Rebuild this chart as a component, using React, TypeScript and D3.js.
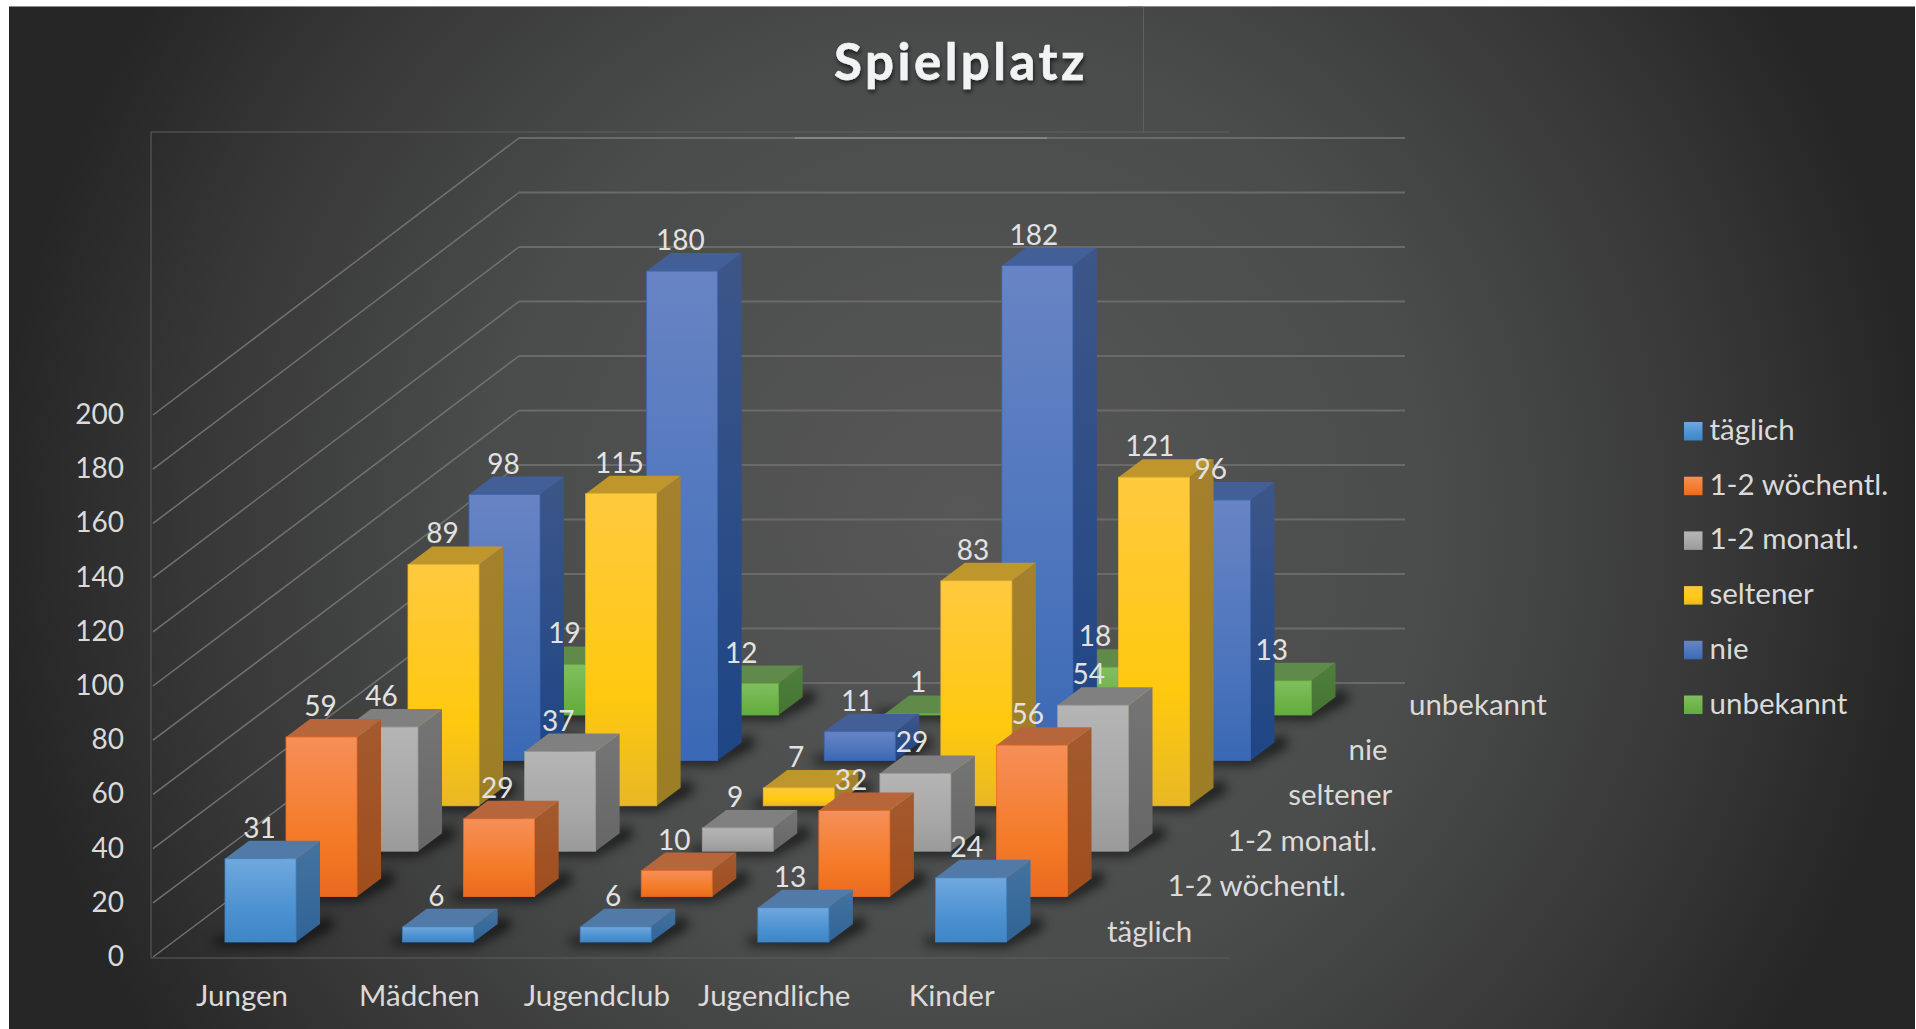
import React from "react";
import * as d3 from "d3";

const title = "Spielplatz";
const categories = ["Jungen", "Mädchen", "Jugendclub", "Jugendliche", "Kinder"];
const seriesNames = ["täglich", "1-2 wöchentl.", "1-2 monatl.", "seltener", "nie", "unbekannt"];
const taeglich = [31, 6, 6, 13, 24];
const woechentl = [59, 29, 10, 32, 56];
const monatl = [46, 37, 9, 29, 54];
const seltener = [89, 115, 7, 83, 121];
const nie = [98, 180, 11, 182, 96];
const unbekannt = [19, 12, 1, 18, 13];
const seriesValues = [taeglich, woechentl, monatl, seltener, nie, unbekannt];
const yTicks = [0, 20, 40, 60, 80, 100, 120, 140, 160, 180, 200];

const palette = [
  { front: ["#70a8de", "#4a90d0", "#3f86c6"], side: ["#44739f", "#2f6496"], top: "#527aa8" },
  { front: ["#f68f58", "#f47a26", "#ea6a20"], side: ["#a35a2e", "#a04d1d"], top: "#b7663c" },
  { front: ["#b5b5b5", "#a6a6a6", "#9a9a9a"], side: ["#757575", "#666666"], top: "#808080" },
  { front: ["#ffc93f", "#ffc90f", "#e8b825"], side: ["#a5802d", "#9c7e25"], top: "#bf962c" },
  { front: ["#6884c4", "#4b74bc", "#3a68b4"], side: ["#3d5689", "#1e4585"], top: "#435f98" },
  { front: ["#80bf5f", "#6db247", "#62ac3d"], side: ["#4f7f3c", "#467532"], top: "#5f8a4a" },
];

const W = 1916, H = 1029;
const barW = 71, depthX = 24, depthY = 18;
const backX = 519, frontX = 153, wallRight = 1405;

const xCat = d3.scalePoint<number>().domain(d3.range(5)).range([225, 935.5]);
const xRow = d3.scaleLinear().domain([0, 5]).range([0, 305]);
const yBase = d3.scaleLinear().domain([0, 5]).range([942, 715]);
const barH = d3.scaleLinear().domain([0, 200]).range([-1.2, 543.8]);
const yBack = d3.scaleLinear().domain([0, 200]).range([683, 138]);
const yFront = d3.scaleLinear().domain([0, 200]).range([957, 415]);

const pts = (p: number[][]) => p.map((q) => q.join(",")).join(" ");
const rowOrder = d3.range(5, -1, -1);
const font = "Lato, 'Open Sans', sans-serif";
const textFill = "#dadada";

export default function App() {
  return (
    <svg width={W} height={H} viewBox={`0 0 ${W} ${H}`} style={{ position: "fixed", left: 0, top: 0, display: "block" }} fontFamily={font}>
      <defs>
        <radialGradient id="bg" gradientUnits="userSpaceOnUse" cx={960} cy={520} r={960}>
          <stop offset="0" stopColor="#575757" />
          <stop offset="0.5" stopColor="#4a4b4b" />
          <stop offset="0.8" stopColor="#363736" />
          <stop offset="1" stopColor="#262626" />
        </radialGradient>
        <filter id="sh" x="-40%" y="-80%" width="180%" height="260%"><feGaussianBlur stdDeviation="6" /></filter>
        <filter id="ts" x="-10%" y="-30%" width="120%" height="160%">
          <feDropShadow dx="1" dy="3" stdDeviation="2" floodColor="#000" floodOpacity="0.6" />
        </filter>
        {palette.map((p, i) => (
          <React.Fragment key={i}>
            <linearGradient id={`f${i}`} x1="0" y1="0" x2="0" y2="1">
              <stop offset="0" stopColor={p.front[0]} />
              <stop offset="0.65" stopColor={p.front[1]} />
              <stop offset="1" stopColor={p.front[2]} />
            </linearGradient>
            <linearGradient id={`s${i}`} x1="0" y1="0" x2="0" y2="1">
              <stop offset="0" stopColor={p.side[0]} />
              <stop offset="1" stopColor={p.side[1]} />
            </linearGradient>
          </React.Fragment>
        ))}
      </defs>
      <rect width={W} height={H} fill="#ffffff" />
      <rect x={9} y={6} width={W - 10} height={H - 6} fill="url(#bg)" />
      <line x1={9} x2={W - 1} y1={6.5} y2={6.5} stroke="#8a8a8a" strokeWidth={1} />

      {/* frame */}
      <g stroke="#5f5f5f" strokeWidth={1} fill="none">
        <path d="M151,958 V132 H1143.5 V7 H1128 M1143.5,132 H1229 M151,958 H1229" />
      </g>

      {/* grid */}
      {yTicks.map((t) => (
        <g key={t} fill="none">
          <line x1={frontX} y1={yFront(t)} x2={backX} y2={yBack(t)} stroke="#717171" strokeWidth={1.5} />
          <line x1={backX} y1={yBack(t)} x2={wallRight} y2={yBack(t)} stroke="#6a6a6a" strokeWidth={2.2} />
        </g>
      ))}
      <line x1={795} y1={138} x2={1047} y2={138} stroke="#8c8c8c" strokeWidth={1.5} />

      {/* bars, back row first */}
      {rowOrder.map((r) => (
        <g key={r}>
          {seriesValues[r].map((_, c) => {
            const x0 = xCat(c)! + xRow(r);
            const b = yBase(r);
            return (
              <polygon key={c} filter="url(#sh)" fill="#000" opacity={0.72}
                points={pts([[x0 - 10, b + 3], [x0 + barW, b + 4], [x0 + barW + depthX + 14, b - depthY + 3], [x0 + barW + depthX + 8, b - depthY - 8], [x0 + barW, b - 6], [x0 - 10, b - 4]])} />
            );
          })}
          {seriesValues[r].map((v, c) => {
            const x0 = xCat(c)! + xRow(r);
            const x1 = x0 + barW;
            const b = yBase(r);
            const t = b - barH(v);
            return (
              <g key={c}>
                <polygon points={pts([[x1, t], [x1 + depthX, t - depthY], [x1 + depthX, b - depthY], [x1, b]])} fill={`url(#s${r})`} />
                <polygon points={pts([[x0, t], [x0 + depthX, t - depthY], [x1 + depthX, t - depthY], [x1, t]])} fill={palette[r].top} />
                <rect x={x0} y={t} width={barW} height={b - t} fill={`url(#f${r})`} stroke={palette[r].front[2]} strokeWidth={0.8} />
              </g>
            );
          })}
        </g>
      ))}

      {/* data labels */}
      <g fill="#e2e2e2" fontSize={28} textAnchor="middle" dominantBaseline="central">
        {rowOrder.map((r) =>
          seriesValues[r].map((v, c) => (
            <text key={`${r}-${c}`} x={xCat(c)! + xRow(r) + barW / 2 - 1 - 0.8 * c} y={yBase(r) - barH(v) - 32}>{v}</text>
          ))
        )}
      </g>

      {/* y axis */}
      <g fill={textFill} fontSize={28} textAnchor="end" dominantBaseline="central">
        {yTicks.map((t) => <text key={t} x={124} y={yFront(t) - 2}>{t}</text>)}
      </g>

      {/* category labels */}
      <g fill={textFill} fontSize={29.5} textAnchor="middle" dominantBaseline="central">
        {categories.map((c, i) => <text key={c} x={xCat(i)! + 17 - 0.2 * i} y={994}>{c}</text>)}
      </g>

      {/* depth axis labels */}
      <g fill={textFill} fontSize={29.5} dominantBaseline="central">
        {seriesNames.map((s, r) => <text key={s} x={1107 + xRow(r) * 0.99} y={yBase(r) - 12}>{s}</text>)}
      </g>

      {/* legend */}
      {seriesNames.map((s, i) => {
        const y = 422 + i * 54.7;
        return (
          <g key={s}>
            <rect x={1684} y={y} width={18.5} height={18.5} fill={`url(#f${i})`} />
            <text x={1709.5} y={y + 6.5} fill={textFill} fontSize={29.5} dominantBaseline="central">{s}</text>
          </g>
        );
      })}

      <text x={961} y={80} textAnchor="middle" fontSize={51} fontWeight={700} letterSpacing={3.5} fill="#f2f3f5" stroke="#f2f3f5" strokeWidth={0.6} filter="url(#ts)">{title}</text>
    </svg>
  );
}
